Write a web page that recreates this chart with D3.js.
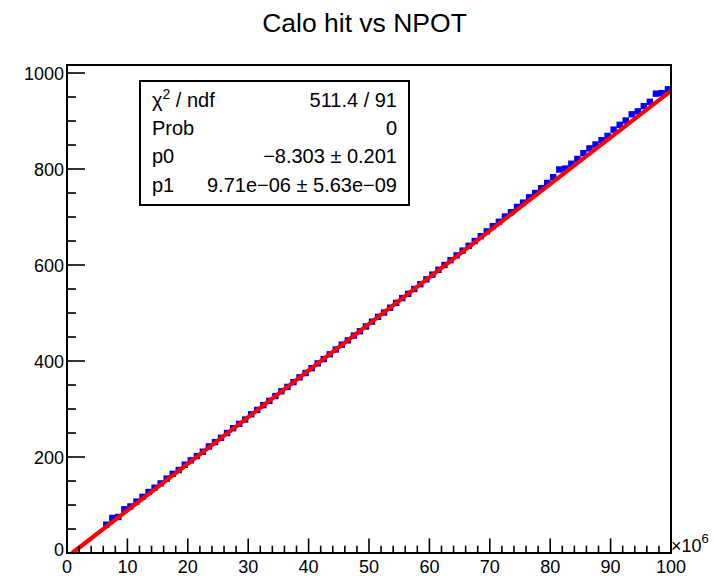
<!DOCTYPE html>
<html>
<head>
<meta charset="utf-8">
<script src="https://cdn.jsdelivr.net/npm/d3@7"></script>
<style>
  html, body { margin: 0; padding: 0; background: #fff; }
  svg { display: block; }
  text { font-family: "Liberation Sans", Arial, Helvetica, sans-serif; fill: #000; }
</style>
</head>
<body>
<svg id="chart" width="714" height="576"></svg>
<script>
// ---- data ----
const title = "Calo hit vs NPOT";
const binCenters = [
  6.5, 7.5, 8.5, 9.5, 10.5, 11.5, 12.5, 13.5, 14.5, 15.5, 16.5, 17.5, 18.5, 19.5,
  20.5, 21.5, 22.5, 23.5, 24.5, 25.5, 26.5, 27.5, 28.5, 29.5, 30.5, 31.5, 32.5, 33.5,
  34.5, 35.5, 36.5, 37.5, 38.5, 39.5, 40.5, 41.5, 42.5, 43.5, 44.5, 45.5, 46.5, 47.5,
  48.5, 49.5, 50.5, 51.5, 52.5, 53.5, 54.5, 55.5, 56.5, 57.5, 58.5, 59.5, 60.5, 61.5,
  62.5, 63.5, 64.5, 65.5, 66.5, 67.5, 68.5, 69.5, 70.5, 71.5, 72.5, 73.5, 74.5, 75.5,
  76.5, 77.5, 78.5, 79.5, 80.5, 81.5, 82.5, 83.5, 84.5, 85.5, 86.5, 87.5, 88.5, 89.5,
  90.5, 91.5, 92.5, 93.5, 94.5, 95.5, 96.5, 97.5, 98.5, 99.5
];
const caloHits = [
  59, 73, 75, 91, 97, 107, 117, 127, 136, 145, 155, 165, 173, 184,
  193, 202, 211, 222, 231, 240, 250, 260, 269, 278, 289, 298, 308, 317,
  327, 337, 346, 356, 366, 375, 385, 395, 404, 414, 424, 434, 443, 453,
  462, 472, 482, 492, 501, 511, 521, 531, 540, 550, 560, 570, 580, 590,
  600, 610, 620, 630, 640, 650, 660, 670, 681, 690, 701, 710, 721, 730,
  741, 750, 760, 771, 783, 799, 801, 811, 821, 833, 843, 851, 860, 869,
  882, 892, 901, 914, 920, 931, 940, 957, 958, 966
];
// fit parameters (x in units of 1e6)
const fitP0 = -8.303;
const fitP1 = 9.71;   // 9.71e-06 per POT -> per 1e6 POT
const statLabels = ["χ2 / ndf", "Prob", "p0", "p1"];
const statValues = ["511.4 / 91", "0", "\u22128.303 \u00b1 0.201", "9.71e\u221206 \u00b1 5.63e\u221209"];
const xTicks = [0, 10, 20, 30, 40, 50, 60, 70, 80, 90, 100];
const yTicks = [0, 200, 400, 600, 800, 1000];

// ---- layout ----
const svg = d3.select("#chart");
const L = 67, R = 671, T = 65, B = 553;
const x = d3.scaleLinear().domain([0, 100]).range([L, R]);
const y = d3.scaleLinear().domain([0, 1016.7]).range([B, T]);

// title
svg.append("text").attr("x", 364.5).attr("y", 32).attr("text-anchor", "middle")
  .style("font-size", "26.5px").text(title);

// markers
const mw = 6.4, mh = 6.4;
svg.append("g").selectAll("rect").data(binCenters).join("rect")
  .attr("x", (d) => x(d) - mw / 2)
  .attr("y", (d, i) => y(caloHits[i]) - mh / 2)
  .attr("width", mw).attr("height", mh)
  .attr("fill", "#0000ff");

// fit line
const x0 = -fitP0 / fitP1;
const fitPts = [x0, 100];
svg.append("line")
  .attr("x1", x(fitPts[0])).attr("y1", y(fitP0 + fitP1 * fitPts[0]))
  .attr("x2", x(fitPts[1])).attr("y2", y(fitP0 + fitP1 * fitPts[1]))
  .attr("stroke", "#ff0000").attr("stroke-width", 4.2);

// axes ticks (inward)
const axisG = svg.append("g").attr("stroke", "#000");
const xMinor = d3.range(0, 100.001, 2);
xMinor.forEach((v) => {
  const major = Math.abs(v % 10) < 1e-9;
  axisG.append("line").attr("x1", x(v)).attr("x2", x(v))
    .attr("y1", B).attr("y2", B - (major ? 14.6 : 7.3)).attr("stroke-width", 1.6);
});
const yMinor = d3.range(0, 1001, 50);
yMinor.forEach((v) => {
  const major = v % 200 === 0;
  axisG.append("line").attr("y1", y(v)).attr("y2", y(v))
    .attr("x1", L).attr("x2", L + (major ? 18 : 9)).attr("stroke-width", 1.6);
});

// frame
svg.append("rect").attr("x", L).attr("y", T).attr("width", R - L).attr("height", B - T)
  .attr("fill", "none").attr("stroke", "#000").attr("stroke-width", 2);

// tick labels
svg.append("g").selectAll("text").data(xTicks).join("text")
  .attr("x", (d) => x(d)).attr("y", B + 20).attr("text-anchor", "middle")
  .style("font-size", "18px").text((d) => d);
svg.append("g").selectAll("text").data(yTicks).join("text")
  .attr("x", L - 3).attr("y", (d) => y(d) + (d === 0 ? 3 : 6.5)).attr("text-anchor", "end")
  .style("font-size", "18px").text((d) => d);

// x10^6
const mult = svg.append("text").attr("x", 671).attr("y", 552).style("font-size", "18px");
mult.append("tspan").text("\u00d710");
mult.append("tspan").attr("dy", -9).style("font-size", "13px").text("6");

// stats box
const bx = 140, by = 81, bw = 269, bh = 124;
svg.append("rect").attr("x", bx).attr("y", by).attr("width", bw).attr("height", bh)
  .attr("fill", "#fff").attr("stroke", "#000").attr("stroke-width", 2);
const rowY = [107, 135, 163, 192];
statLabels.forEach((lab, i) => {
  const t = svg.append("text").attr("x", 152).attr("y", rowY[i]).style("font-size", "20px");
  if (i === 0) {
    t.append("tspan").text("\u03c7");
    t.append("tspan").attr("dy", -8).style("font-size", "14px").text("2");
    t.append("tspan").attr("dy", 8).text(" / ndf");
  } else {
    t.text(lab);
  }
  svg.append("text").attr("x", 397).attr("y", rowY[i]).attr("text-anchor", "end")
    .style("font-size", "20px").text(statValues[i]);
});
</script>
</body>
</html>
